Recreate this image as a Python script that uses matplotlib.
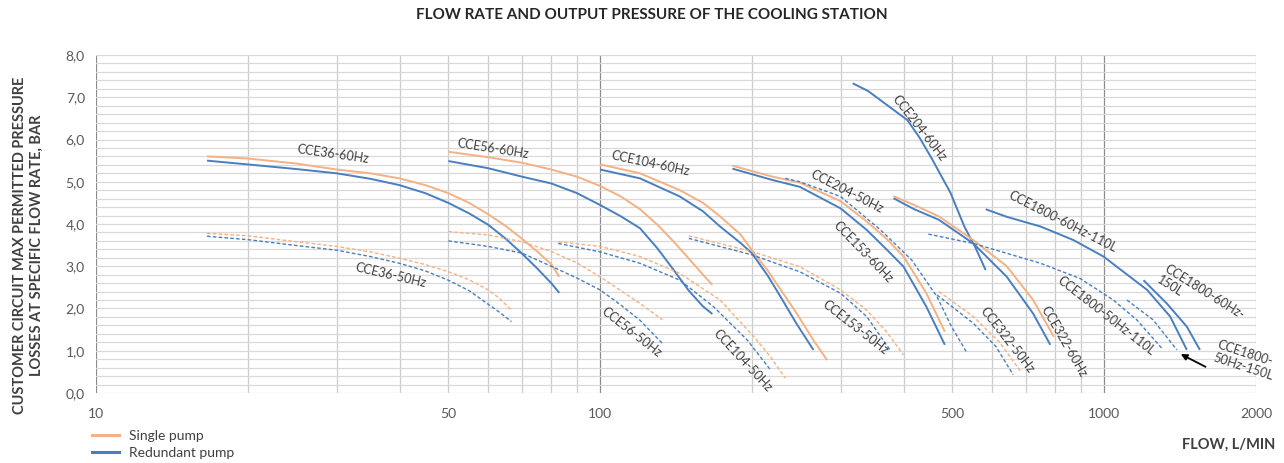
import matplotlib
matplotlib.use('Agg')
import matplotlib.pyplot as plt
from matplotlib.ticker import FixedLocator, FuncFormatter, MultipleLocator

plt.rcParams['font.family'] = ['Lato', 'DejaVu Sans']

# ---- datos (flujo L/min, presión bar) ----
cce36_60_x = [16.6, 20, 25, 30, 35, 40, 45, 50, 55, 60, 65, 70, 75, 80, 83]
cce36_60_single = [5.60, 5.55, 5.43, 5.29, 5.20, 5.08, 4.92, 4.73, 4.50, 4.23, 3.95, 3.65, 3.35, 3.05, 2.75]
cce36_60_red = [5.50, 5.41, 5.30, 5.20, 5.07, 4.92, 4.73, 4.50, 4.25, 3.98, 3.65, 3.30, 2.95, 2.60, 2.37]
cce36_50_x = [16.6, 20, 25, 30, 35, 40, 45, 50, 55, 60, 63, 66.7]
cce36_50_single = [3.78, 3.72, 3.58, 3.47, 3.34, 3.19, 3.04, 2.87, 2.68, 2.44, 2.25, 1.96]
cce36_50_red = [3.71, 3.63, 3.49, 3.38, 3.23, 3.07, 2.89, 2.67, 2.42, 2.10, 1.92, 1.69]

cce56_60_x = [50, 60, 70, 80, 90, 100, 110, 120, 130, 140, 150, 160, 167]
cce56_60_single = [5.71, 5.58, 5.45, 5.29, 5.12, 4.90, 4.65, 4.35, 3.98, 3.58, 3.18, 2.80, 2.56]
cce56_60_red = [5.49, 5.32, 5.12, 4.96, 4.73, 4.45, 4.18, 3.90, 3.42, 2.91, 2.42, 2.05, 1.87]
cce56_50_x = [50, 60, 70, 80, 90, 100, 110, 120, 133]
cce56_50_single = [3.82, 3.74, 3.58, 3.35, 3.08, 2.75, 2.42, 2.12, 1.73]
cce56_50_red = [3.60, 3.47, 3.31, 3.00, 2.72, 2.44, 2.08, 1.72, 1.17]

cce104_60_single_x = [100, 120, 144, 160, 173, 190, 202, 215, 228, 245, 265, 282]
cce104_60_single = [5.41, 5.20, 4.80, 4.50, 4.18, 3.75, 3.31, 2.90, 2.45, 1.90, 1.25, 0.78]
cce104_60_red_x = [100, 120, 144, 160, 173, 190, 200, 215, 228, 245, 265]
cce104_60_red = [5.29, 5.08, 4.65, 4.30, 3.94, 3.55, 3.31, 2.78, 2.28, 1.65, 1.02]
cce104_50_single_x = [82.6, 100, 120, 144, 173, 202, 218, 233]
cce104_50_single = [3.58, 3.47, 3.23, 2.83, 2.20, 1.33, 0.85, 0.35]
cce104_50_red_x = [82.6, 100, 120, 144, 168, 196, 218]
cce104_50_red = [3.54, 3.34, 3.07, 2.67, 2.04, 1.25, 0.54]

cce153_60_x = [183, 220, 249, 300, 338, 370, 400, 444, 483]
cce153_60_single = [5.38, 5.12, 4.98, 4.54, 4.06, 3.65, 3.23, 2.36, 1.45]
cce153_60_red = [5.31, 5.04, 4.88, 4.37, 3.86, 3.40, 2.99, 2.04, 1.14]
cce153_50_single_x = [150, 200, 249, 300, 338, 370, 400]
cce153_50_single = [3.72, 3.35, 2.99, 2.44, 1.96, 1.45, 0.90]
cce153_50_red_x = [150, 200, 249, 300, 338, 376]
cce153_50_red = [3.66, 3.27, 2.87, 2.36, 1.81, 1.02]

cce204_60_x = [317, 340, 360, 407, 430, 455, 496, 528, 555, 582]
cce204_60_red = [7.33, 7.15, 6.93, 6.46, 6.05, 5.55, 4.73, 3.94, 3.45, 2.91]
cce204_50_x = [233, 249, 300, 360, 415, 466, 498, 535]
cce204_50_red = [5.08, 5.00, 4.65, 3.86, 3.15, 2.28, 1.57, 0.94]

cce322_60_single_x = [382, 420, 470, 550, 641, 723, 795]
cce322_60_single = [4.66, 4.45, 4.18, 3.62, 3.00, 2.20, 1.33]
cce322_60_red_x = [382, 420, 470, 550, 641, 723, 782]
cce322_60_red = [4.61, 4.35, 4.10, 3.54, 2.75, 1.88, 1.14]
cce322_50_single_x = [470, 550, 620, 684]
cce322_50_single = [2.40, 1.81, 1.20, 0.50]
cce322_50_red_x = [466, 550, 610, 660]
cce322_50_red = [2.32, 1.65, 1.10, 0.43]

cce1800_60_110_x = [582, 641, 748, 869, 997, 1217, 1352, 1459]
cce1800_60_110_red = [4.35, 4.17, 3.94, 3.62, 3.23, 2.44, 1.81, 1.02]
cce1800_50_110_x = [448, 550, 748, 896, 1043, 1161, 1301]
cce1800_50_110_red = [3.76, 3.54, 3.07, 2.71, 2.20, 1.73, 1.06]
cce1800_60_150_x = [1197, 1331, 1459, 1549]
cce1800_60_150_red = [2.67, 2.12, 1.57, 1.02]
cce1800_50_150_x = [1110, 1251, 1394]
cce1800_50_150_red = [2.20, 1.73, 1.02]

# etiquetas: texto, x, y, rotación
labels = [
    ('CCE36-60Hz', 29.5, 5.66, -8),
    ('CCE36-50Hz', 38.5, 2.79, -13),
    ('CCE56-60Hz', 61.4, 5.78, -9),
    ('CCE56-50Hz', 115.6, 1.44, -38),
    ('CCE104-60Hz', 126, 5.44, -12),
    ('CCE104-50Hz', 192, 0.76, -47),
    ('CCE204-50Hz', 308, 4.76, -27),
    ('CCE153-60Hz', 333, 3.34, -46),
    ('CCE153-50Hz', 321, 1.54, -38),
    ('CCE204-60Hz', 430, 6.27, -52),
    ('CCE322-50Hz', 643, 1.25, -52),
    ('CCE322-60Hz', 833, 1.21, -60),
    ('CCE1800-60Hz-110L', 826, 4.05, -27),
    ('CCE1800-50Hz-110L', 1009, 1.82, -38),
]

SINGLE = '#f4b183'
RED = '#4a7fbf'
TXT = '#404040'
GRID = '#d9d9d9'
DASH = (0, (2.6, 1.6))

fig = plt.figure(figsize=(12.84, 4.63), dpi=100)
ax = fig.add_axes([0.0748, 0.1512, 0.9033, 0.7300])

solid = [
    (cce36_60_x, cce36_60_single, SINGLE), (cce36_60_x, cce36_60_red, RED),
    (cce56_60_x, cce56_60_single, SINGLE), (cce56_60_x, cce56_60_red, RED),
    (cce104_60_single_x, cce104_60_single, SINGLE), (cce104_60_red_x, cce104_60_red, RED),
    (cce153_60_x, cce153_60_single, SINGLE), (cce153_60_x, cce153_60_red, RED),
    (cce204_60_x, cce204_60_red, RED),
    (cce322_60_single_x, cce322_60_single, SINGLE), (cce322_60_red_x, cce322_60_red, RED),
    (cce1800_60_110_x, cce1800_60_110_red, RED),
    (cce1800_60_150_x, cce1800_60_150_red, RED),
]
dashed = [
    (cce36_50_x, cce36_50_single, SINGLE), (cce36_50_x, cce36_50_red, RED),
    (cce56_50_x, cce56_50_single, SINGLE), (cce56_50_x, cce56_50_red, RED),
    (cce104_50_single_x, cce104_50_single, SINGLE), (cce104_50_red_x, cce104_50_red, RED),
    (cce153_50_single_x, cce153_50_single, SINGLE), (cce153_50_red_x, cce153_50_red, RED),
    (cce204_50_x, cce204_50_red, RED),
    (cce322_50_single_x, cce322_50_single, SINGLE), (cce322_50_red_x, cce322_50_red, RED),
    (cce1800_50_110_x, cce1800_50_110_red, RED),
    (cce1800_50_150_x, cce1800_50_150_red, RED),
]
for x, y, c in solid:
    ax.plot(x, y, color=c, lw=1.4, solid_capstyle='butt', solid_joinstyle='round', zorder=3)
for x, y, c in dashed:
    ax.plot(x, y, color=c, lw=1.0, linestyle=DASH, dash_joinstyle='round', zorder=3)

for txt, x, y, rot in labels:
    ax.text(x, y, txt, rotation=rot, rotation_mode='anchor', ha='center', va='center',
            fontsize=9, color=TXT, zorder=4)
ax.text(1340, 3.10, 'CCE1800-60Hz-\n150L', rotation=-32, rotation_mode='anchor',
        ha='left', va='top', multialignment='left', fontsize=9, color=TXT,
        linespacing=1.1, zorder=4)
ax.text(1690, 1.28, 'CCE1800-\n50Hz-150L', rotation=-18, rotation_mode='anchor',
        ha='left', va='top', multialignment='left', fontsize=9, color=TXT,
        linespacing=1.1, zorder=4)
ax.annotate('', xy=(1403, 0.95), xytext=(1607, 0.59),
            arrowprops=dict(arrowstyle='-|>', color='black', lw=1.3, mutation_scale=9))

# ejes
ax.set_xscale('log')
ax.set_xlim(10, 2000)
ax.set_ylim(0, 8)
ax.set_xticks([10, 100, 1000])
ax.xaxis.set_major_formatter(FuncFormatter(lambda v, p: f'{v:g}'))
minor_x = [m * d for d in (10, 100) for m in range(2, 10)] + [2000]
ax.xaxis.set_minor_locator(FixedLocator(minor_x))
ax.xaxis.set_minor_formatter(FuncFormatter(
    lambda v, p: f'{round(v)}' if round(v) in (50, 500, 2000) else ''))
ax.set_yticks(range(0, 9))
ax.yaxis.set_minor_locator(MultipleLocator(0.2))
ax.yaxis.set_major_formatter(FuncFormatter(lambda v, p: f'{v:.1f}'.replace('.', ',')))

ax.grid(which='both', axis='y', color=GRID, lw=0.9, zorder=0)
ax.grid(which='minor', axis='x', color='#cccccc', lw=0.9)
ax.grid(which='major', axis='x', color='#8c8c8c', lw=0.9)
for t in ax.xaxis.get_major_ticks():
    if abs(t.get_loc() - 10) < 1e-6:
        t.gridline.set_color('#cccccc')
ax.set_axisbelow(True)
for s in ax.spines.values():
    s.set_visible(False)
ax.tick_params(which='both', length=0, colors='#595959', labelsize=10)
ax.tick_params(axis='x', which='both', pad=11)
ax.tick_params(axis='y', which='both', pad=8)

fig.text(0.508, 0.968, 'FLOW RATE AND OUTPUT PRESSURE OF THE COOLING STATION',
         ha='center', va='center', fontsize=11, fontweight='bold', color='#262626')
fig.text(0.0218, 0.471,
         'CUSTOMER CIRCUIT MAX PERMITTED PRESSURE\nLOSSES AT SPECIFIC FLOW RATE, BAR',
         rotation=90, ha='center', va='center', multialignment='center',
         fontsize=10.5, fontweight='bold', color=TXT, linespacing=1.25)
fig.text(0.993, 0.039, 'FLOW, L/MIN', ha='right', va='center',
         fontsize=10.5, fontweight='bold', color=TXT)

h1, = ax.plot([], [], color=SINGLE, lw=2.2)
h2, = ax.plot([], [], color=RED, lw=2.2)
fig.legend([h1, h2], ['Single pump', 'Redundant pump'], loc='upper left',
           bbox_to_anchor=(0.066, 0.086), frameon=False, fontsize=10,
           handlelength=2.0, handletextpad=0.7, labelspacing=0.35,
           labelcolor=TXT, borderpad=0)

fig.savefig('out.png', dpi=100)
